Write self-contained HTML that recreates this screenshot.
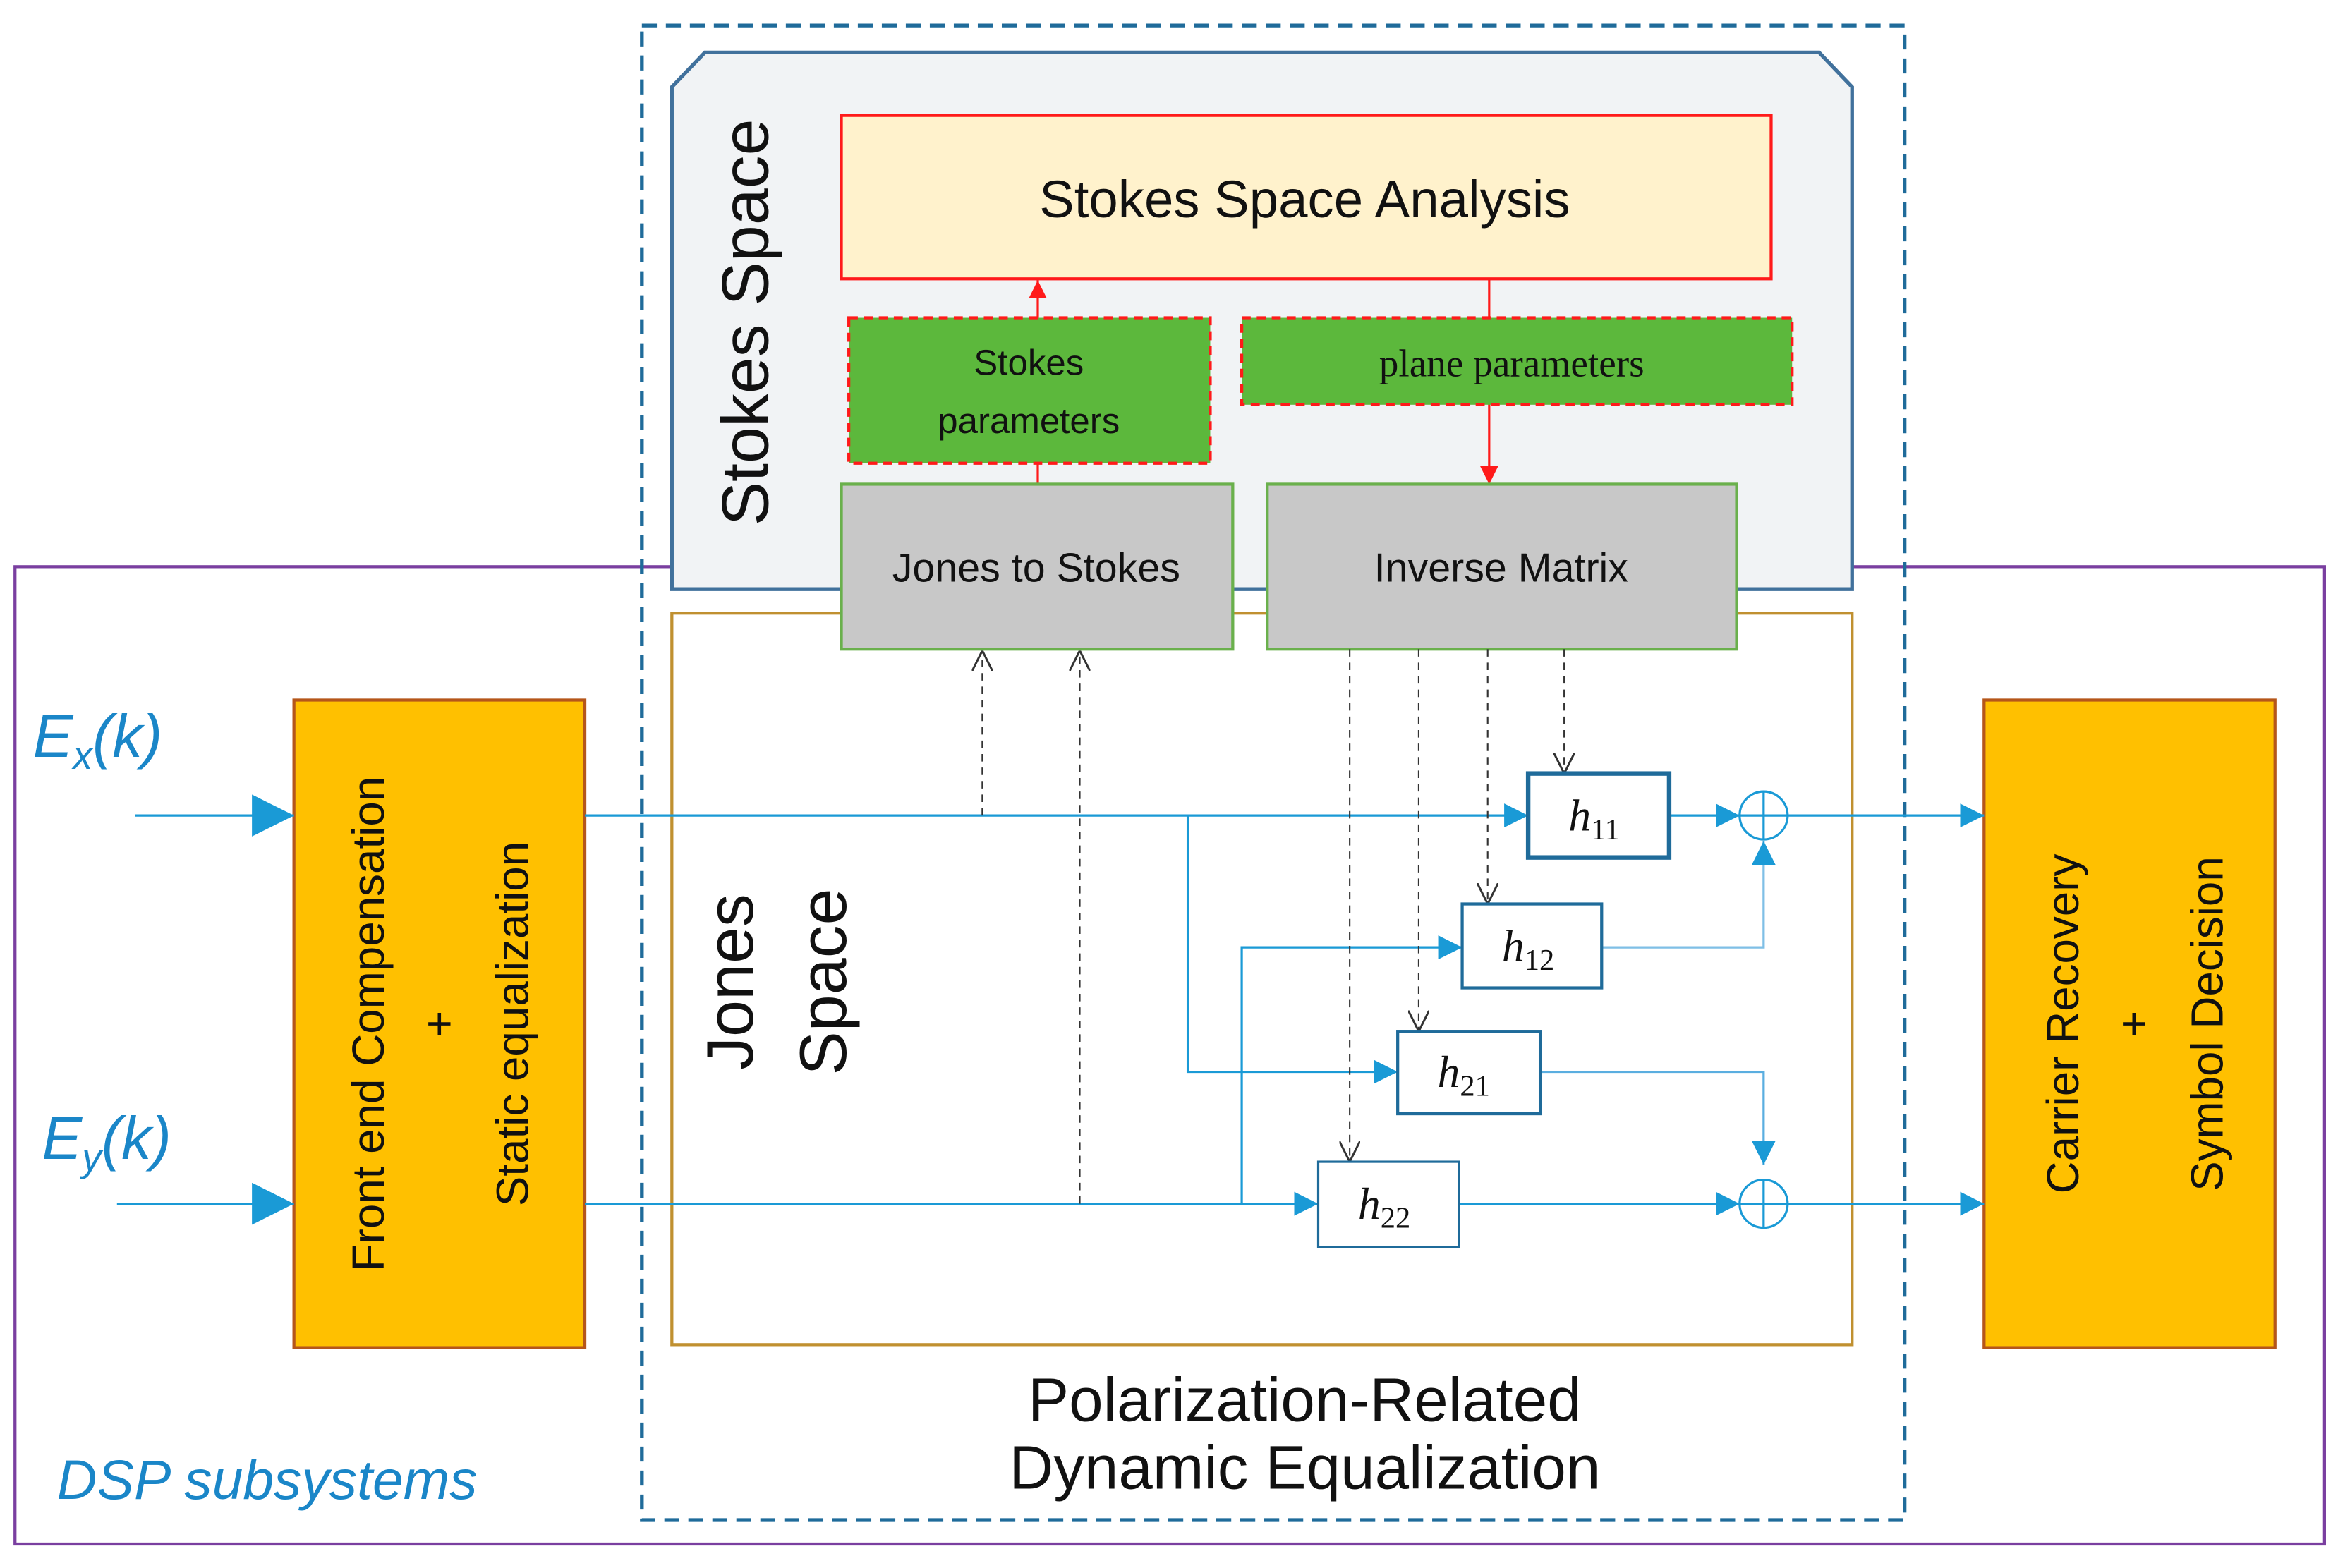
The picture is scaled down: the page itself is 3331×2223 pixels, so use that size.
<!DOCTYPE html>
<html><head><meta charset="utf-8"><style>
html,body{margin:0;padding:0;background:#fff;}
svg{display:block;font-family:"Liberation Sans","DejaVu Sans",sans-serif;}
.serif{font-family:"Liberation Serif","DejaVu Serif",serif;}
</style></head><body>
<svg width="3331" height="2223" viewBox="0 0 1567 1046" preserveAspectRatio="none" xmlns="http://www.w3.org/2000/svg">
<defs>
<marker id="bb" viewBox="0 0 10 10" refX="10" refY="5" markerWidth="28" markerHeight="28" orient="auto" markerUnits="userSpaceOnUse"><path d="M0,0L10,5L0,10z" fill="#1a9ad6"/></marker>
<marker id="bm" viewBox="0 0 10 10" refX="10" refY="5" markerWidth="16" markerHeight="16" orient="auto" markerUnits="userSpaceOnUse"><path d="M0,0L10,5L0,10z" fill="#1a9ad6"/></marker>
<marker id="ra" viewBox="0 0 10 10" refX="10" refY="5" markerWidth="12" markerHeight="12" orient="auto" markerUnits="userSpaceOnUse"><path d="M0,0L10,5L0,10z" fill="#ff1a1a"/></marker>
<marker id="va" viewBox="0 0 10 10" refX="10" refY="5" markerWidth="14" markerHeight="14" orient="auto" markerUnits="userSpaceOnUse"><path d="M0,0L10,5L0,10" fill="none" stroke="#333" stroke-width="1"/></marker>
</defs>
<rect x="10" y="378" width="1540" height="652" fill="none" stroke="#7a3fa0" stroke-width="2"/>
<path d="M448,393 L448,58 L470,35 L1213,35 L1235,58 L1235,393 Z" fill="#f1f3f5" stroke="#41719c" stroke-width="2.5"/>
<rect x="448" y="409" width="787" height="488" fill="#fff" stroke="#c09030" stroke-width="2"/>
<rect x="428" y="17" width="842" height="997" fill="none" stroke="#1f6b9a" stroke-width="2.5" stroke-dasharray="10,6"/>
<text transform="translate(512,215) rotate(-90)" font-size="44" text-anchor="middle" fill="#111">Stokes Space</text>
<rect x="561" y="77" width="620" height="109" fill="#fff2cc" stroke="#ff1a1a" stroke-width="2"/>
<text x="870" y="145" font-size="35" text-anchor="middle" fill="#111">Stokes Space Analysis</text>
<line x1="692" y1="323" x2="692" y2="187" stroke="#ff1a1a" stroke-width="1.5" marker-end="url(#ra)"/>
<line x1="993" y1="186" x2="993" y2="323" stroke="#ff1a1a" stroke-width="1.5" marker-end="url(#ra)"/>
<rect x="566" y="212" width="241" height="97" fill="#5cb83c" stroke="#ff1a1a" stroke-width="2" stroke-dasharray="6,4"/>
<text x="686" y="250" font-size="24" text-anchor="middle" fill="#111">Stokes</text>
<text x="686" y="289" font-size="24" text-anchor="middle" fill="#111">parameters</text>
<rect x="828" y="212" width="367" height="58" fill="#5cb83c" stroke="#ff1a1a" stroke-width="2" stroke-dasharray="6,4"/>
<text x="1008" y="251" font-size="26" text-anchor="middle" fill="#111" class="serif">plane parameters</text>
<rect x="561" y="323" width="261" height="110" fill="#c8c8c8" stroke="#6ab04c" stroke-width="2"/>
<text x="691" y="388" font-size="27" text-anchor="middle" fill="#111">Jones to Stokes</text>
<rect x="845" y="323" width="313" height="110" fill="#c8c8c8" stroke="#6ab04c" stroke-width="2"/>
<text x="1001" y="388" font-size="27" text-anchor="middle" fill="#111">Inverse Matrix</text>
<text transform="translate(502,655) rotate(-90)" font-size="44" text-anchor="middle" fill="#111">Jones</text>
<text transform="translate(564,655) rotate(-90)" font-size="44" text-anchor="middle" fill="#111">Space</text>
<rect x="196" y="467" width="194" height="432" fill="#ffc000" stroke="#b5561a" stroke-width="2"/>
<text transform="translate(256,683) rotate(-90)" font-size="30" text-anchor="middle" fill="#111">Front end Compensation</text>
<text transform="translate(303,683) rotate(-90)" font-size="30" text-anchor="middle" fill="#111">+</text>
<text transform="translate(352,683) rotate(-90)" font-size="30" text-anchor="middle" fill="#111">Static equalization</text>
<rect x="1323" y="467" width="194" height="432" fill="#ffc000" stroke="#b5561a" stroke-width="2"/>
<text transform="translate(1386,683) rotate(-90)" font-size="30" text-anchor="middle" fill="#111">Carrier Recovery</text>
<text transform="translate(1433,683) rotate(-90)" font-size="30" text-anchor="middle" fill="#111">+</text>
<text transform="translate(1482,683) rotate(-90)" font-size="30" text-anchor="middle" fill="#111">Symbol Decision</text>
<text x="22" y="505" font-size="40" font-style="italic" fill="#1a86c8">E<tspan font-size="26" dy="8">x</tspan><tspan dy="-8">(k)</tspan></text>
<text x="28" y="773" font-size="40" font-style="italic" fill="#1a86c8">E<tspan font-size="26" dy="8">y</tspan><tspan dy="-8">(k)</tspan></text>
<line x1="90" y1="544" x2="196" y2="544" stroke="#1a9ad6" stroke-width="1.5" marker-end="url(#bb)"/>
<line x1="78" y1="803" x2="196" y2="803" stroke="#1a9ad6" stroke-width="1.5" marker-end="url(#bb)"/>
<g stroke="#1a9ad6" stroke-width="1.5" fill="none">
<line x1="390" y1="544" x2="1019" y2="544" marker-end="url(#bm)"/>
<line x1="390" y1="803" x2="879" y2="803" marker-end="url(#bm)"/>
<polyline points="792,544 792,715 932,715" marker-end="url(#bm)"/>
<polyline points="828,803 828,632 975,632" marker-end="url(#bm)"/>
<line x1="1113" y1="544" x2="1160" y2="544" marker-end="url(#bm)"/>
<line x1="973" y1="803" x2="1160" y2="803" marker-end="url(#bm)"/>
<polyline points="1068,632 1176,632 1176,561" marker-end="url(#bm)" stroke="#7fbfe6"/>
<polyline points="1027,715 1176,715 1176,777" marker-end="url(#bm)" stroke="#5aaee0"/>
<line x1="1192" y1="544" x2="1323" y2="544" marker-end="url(#bm)"/>
<line x1="1192" y1="803" x2="1323" y2="803" marker-end="url(#bm)"/>
<circle cx="1176" cy="544" r="16"/><line x1="1160" y1="544" x2="1192" y2="544"/><line x1="1176" y1="528" x2="1176" y2="560"/>
<circle cx="1176" cy="803" r="16"/><line x1="1160" y1="803" x2="1192" y2="803"/><line x1="1176" y1="787" x2="1176" y2="819"/>
</g>
<g stroke="#333" stroke-width="1" stroke-dasharray="5,4" fill="none">
<line x1="900" y1="433" x2="900" y2="775" marker-end="url(#va)"/>
<line x1="946" y1="433" x2="946" y2="688" marker-end="url(#va)"/>
<line x1="992" y1="433" x2="992" y2="603" marker-end="url(#va)"/>
<line x1="1043" y1="433" x2="1043" y2="516" marker-end="url(#va)"/>
<line x1="655" y1="544" x2="655" y2="434" marker-end="url(#va)"/>
<line x1="720" y1="803" x2="720" y2="434" marker-end="url(#va)"/>
</g>
<g fill="#fff" stroke="#1f6b9a">
<rect x="1019" y="516" width="94" height="56" stroke-width="3"/>
<rect x="975" y="603" width="93" height="56" stroke-width="2"/>
<rect x="932" y="688" width="95" height="55" stroke-width="2"/>
<rect x="879" y="775" width="94" height="57" stroke-width="1.5"/>
</g>
<g class="serif" font-style="italic" font-size="30" fill="#111" text-anchor="middle">
<text x="1063" y="554">h<tspan font-style="normal" font-size="20" dy="6">11</tspan></text>
<text x="1019" y="641">h<tspan font-style="normal" font-size="20" dy="6">12</tspan></text>
<text x="976" y="725">h<tspan font-style="normal" font-size="20" dy="6">21</tspan></text>
<text x="923" y="813">h<tspan font-style="normal" font-size="20" dy="6">22</tspan></text>
</g>
<text x="870" y="948" font-size="41" text-anchor="middle" fill="#111">Polarization-Related</text>
<text x="870" y="993" font-size="41" text-anchor="middle" fill="#111">Dynamic Equalization</text>
<text x="38" y="1000" font-size="37" font-style="italic" fill="#1a86c8">DSP subsystems</text>
</svg>
</body></html>
